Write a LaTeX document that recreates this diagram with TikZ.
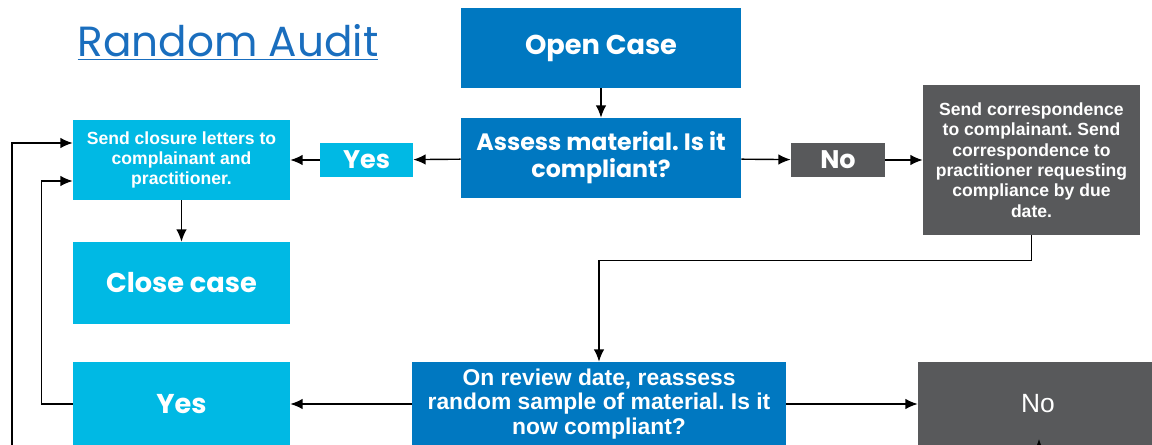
\documentclass[tikz,border=0pt]{standalone}
\usepackage{fontspec}
\setmainfont{Liberation Sans}
\newfontfamily\gothic{Poppins}
\usepackage{xcolor}
\usepackage{tikz}
\usetikzlibrary{shapes,arrows,arrows.meta,positioning,calc}
\frenchspacing

\definecolor{auditblue}{RGB}{0,120,193}
\definecolor{auditcyan}{RGB}{0,185,228}
\definecolor{auditgrey}{RGB}{88,89,91}
\definecolor{titleblue}{RGB}{26,110,190}

\begin{document}
\begin{tikzpicture}[
    x=0.02cm, y=-0.02cm,
    darkbox/.style={rectangle, fill=auditblue, text=white, align=center, inner sep=2pt},
    lightbox/.style={rectangle, fill=auditcyan, text=white, align=center, inner sep=2pt},
    greybox/.style={rectangle, fill=auditgrey, text=white, align=center, inner sep=2pt},
    bigtext/.style={font=\gothic\bfseries\fontsize{15.5}{17}\selectfont},
    flow/.style={-{Latex[length=7pt,width=6pt]}, thick, black}
]
\useasboundingbox (0,0) rectangle (1152,445);
\clip (0,0) rectangle (1152,445);

% Title
\node[text=titleblue, font=\gothic\fontsize{24}{26}\selectfont] (title) at (228,42) {\underline{Random Audit}};

% Top row
\node[darkbox, bigtext, minimum width=5.6cm, minimum height=1.6cm] (opencase) at (601,48) {Open Case};
\node[darkbox, font=\gothic\bfseries\fontsize{13.5}{15.5}\selectfont, minimum width=5.6cm, minimum height=1.6cm] (assess) at (601,158) {Assess material. Is it\\compliant?};
\node[lightbox, font=\gothic\bfseries\fontsize{14.5}{16}\selectfont, minimum width=1.86cm, minimum height=0.68cm] (yesa) at (366.5,160) {Yes};
\node[greybox, font=\gothic\bfseries\fontsize{14.5}{16}\selectfont, minimum width=1.88cm, minimum height=0.68cm] (noa) at (838,160) {No};
\node[lightbox, font=\bfseries\fontsize{10}{11.4}\selectfont, minimum width=4.34cm, minimum height=1.6cm] (closure) at (181.5,160) {Send closure letters to\\complainant and\\practitioner.};
\node[greybox, font=\bfseries\fontsize{10}{11.6}\selectfont, minimum width=4.34cm, minimum height=3cm] (corresp) at (1031.5,160) {Send correspondence\\to complainant. Send\\correspondence to\\practitioner requesting\\compliance by due\\date.};

% Middle
\node[lightbox, bigtext, minimum width=4.34cm, minimum height=1.64cm] (closecase) at (181.5,283) {Close case};

% Bottom row
\node[darkbox, font=\bfseries\fontsize{13}{13.8}\selectfont, minimum width=7.48cm, minimum height=1.68cm] (review) at (599,404) {On review date, reassess\\random sample of material. Is it\\now compliant?};
\node[lightbox, bigtext, minimum width=4.34cm, minimum height=1.68cm] (yesb) at (181.5,404) {Yes};
\node[greybox, font=\fontsize{15}{16}\selectfont, minimum width=4.8cm, minimum height=1.68cm] (nob) at (1038,404) {No};

% Loose ends below the page
\coordinate (lowin) at (12,470);
\coordinate (nobin) at (1039,470);
\coordinate (nobtip) at (1039,439);

% Connections
\draw[flow] (opencase) -- (assess);
\draw[flow] (assess) -- (yesa);
\draw[flow] (yesa) -- (closure);
\draw[flow] (assess) -- (noa);
\draw[flow] (noa) -- (corresp);
\draw[flow] (corresp.south) -- ++(0,25) -| (review.north);
\draw[flow] (closure) -- (closecase);
\draw[flow] (review) -- (yesb);
\draw[flow] (review) -- (nob);
\draw[flow] (yesb.west) -- ++(-31,0) |- ([yshift=-0.42cm]closure.west);
\draw[flow] (lowin) |- ([yshift=0.34cm]closure.west);
\draw[flow] (nobin) -- (nobtip);

\end{tikzpicture}
\end{document}
